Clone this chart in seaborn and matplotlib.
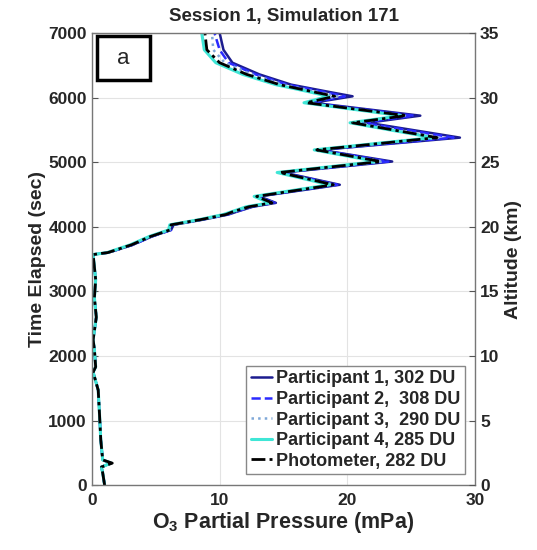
import matplotlib
matplotlib.use("Agg")
import matplotlib.pyplot as plt
import matplotlib.patches as mpatches
import numpy as np
import pandas as pd
import seaborn as sns

# sounding profile, values
time_s = [0, 190, 280, 340, 390, 700, 1100, 1470, 1750, 1830, 2100, 2250, 2600,
          2900, 3180, 3570, 3600, 3720, 3850, 3950, 4030, 4110, 4190, 4230, 4310,
          4370, 4470, 4650, 4840, 5010, 5190, 5380, 5610, 5720, 5920, 6020, 6090,
          6200, 6360, 6540, 6740, 7000]

photometer = [1.0, 0.85, 0.75, 1.6, 0.85, 0.7, 0.6, 0.5, 0.1, 0.3, 0.2, 0.1, 0.35,
              0.2, 0.3, 0.1, 1.25, 3.1, 4.6, 6.1, 6.2, 8.5, 10.5, 11.0, 12.3,
              14.1, 12.9, 18.9, 14.7, 22.6, 17.6, 27.0, 20.4, 24.6, 16.8, 19.0, 17.3,
              14.7, 12.1, 10.0, 9.0, 8.85]
part1 = [1.0, 0.85, 0.75, 1.5, 0.85, 0.7, 0.6, 0.5, 0.1, 0.3, 0.2, 0.1, 0.35,
         0.2, 0.3, 0.1, 1.3, 3.2, 4.7, 6.2, 6.4, 8.7, 10.7, 11.3, 12.6,
         14.4, 13.1, 19.4, 15.0, 23.5, 17.9, 28.8, 21.6, 25.7, 17.3, 20.4, 18.5,
         15.6, 13.1, 11.0, 10.3, 10.0]
part2 = [1.0, 0.85, 0.75, 1.5, 0.85, 0.7, 0.6, 0.5, 0.1, 0.3, 0.2, 0.1, 0.35,
         0.2, 0.3, 0.1, 1.3, 3.2, 4.7, 6.2, 6.3, 8.6, 10.6, 11.2, 12.5,
         14.3, 13.0, 19.2, 14.9, 23.2, 17.8, 28.3, 21.2, 25.2, 17.1, 19.8, 18.1,
         15.3, 12.8, 10.7, 10.0, 9.6]
part3 = [1.0, 0.85, 0.75, 1.5, 0.85, 0.7, 0.6, 0.5, 0.1, 0.3, 0.2, 0.1, 0.35,
         0.2, 0.3, 0.1, 1.25, 3.1, 4.6, 6.1, 6.2, 8.5, 10.5, 11.1, 12.4,
         14.2, 12.9, 19.0, 14.7, 22.8, 17.6, 27.3, 20.6, 24.5, 16.8, 19.2, 17.6,
         15.0, 12.5, 10.4, 9.5, 9.4]
part4 = [1.0, 0.85, 0.75, 1.5, 0.85, 0.7, 0.6, 0.5, 0.1, 0.3, 0.2, 0.1, 0.35,
         0.2, 0.3, 0.1, 1.2, 3.0, 4.5, 6.0, 6.1, 8.4, 10.3, 10.9, 12.1,
         13.9, 12.7, 18.6, 14.5, 22.3, 17.4, 26.7, 20.2, 24.2, 16.6, 18.5, 17.0,
         14.4, 11.8, 9.7, 8.8, 8.6]

labels = ["Participant 1, 302 DU", "Participant 2,  308 DU",
          "Participant 3,  290 DU", "Participant 4, 285 DU",
          "Photometer, 282 DU"]
series = [part1, part2, part3, part4, photometer]
colors = ["#1c1c8f", "#2a2aff", "#7fa8d8", "#3fe6d6", "black"]
styles = ["-", "--", ":", "-", (0, (5, 1.5, 1.2, 1.5))]
widths = [1.8, 1.8, 1.8, 2.2, 2.0]

alt_ticks = [0, 5, 10, 15, 20, 25, 30, 35]

sns.set_style("white")
plt.rcParams["font.family"] = ["Liberation Sans", "DejaVu Sans"]
plt.rcParams["font.weight"] = "bold"
plt.rcParams["mathtext.fontset"] = "custom"
plt.rcParams["mathtext.rm"] = "Liberation Sans:bold"
plt.rcParams["mathtext.default"] = "rm"

df = pd.concat([pd.DataFrame({"pressure": s, "time": time_s, "series": lab})
                for s, lab in zip(series, labels)])

fig = plt.figure(figsize=(5.37, 5.5), dpi=100)
ax = fig.add_axes([0.171, 0.118, 0.714, 0.822])

for lab, c, ls, lw in zip(labels, colors, styles, widths):
    sns.lineplot(data=df[df.series == lab], x="pressure", y="time", sort=False,
                 estimator=None, orient="y", color=c, linestyle=ls, linewidth=lw,
                 label=lab, ax=ax)

ax.set_xlim(0, 30)
ax.set_ylim(0, 7000)
ax.set_xticks([0, 10, 20, 30])
ax.set_yticks(range(0, 7001, 1000))
ax.grid(True, color="#e3e3e3", linewidth=0.8)
ax.tick_params(direction="in", labelsize=12.5, length=4, color="#555555")
ax.tick_params(axis="x", pad=6)
for sp in ax.spines.values():
    sp.set_color("#777777")
    sp.set_linewidth(1.0)
ax.set_xlabel("O$_3$ Partial Pressure (mPa)", fontsize=15.5, fontweight="bold", labelpad=1)
ax.set_ylabel("Time Elapsed (sec)", fontsize=14, fontweight="bold", labelpad=2)
ax.set_title("Session 1, Simulation 171", fontsize=13.5, fontweight="bold", pad=9)

ax2 = ax.twinx()
ax2.set_ylim(0, 35)
ax2.set_yticks(alt_ticks)
ax2.tick_params(direction="in", labelsize=12.5, length=4, color="#555555")
ax2.set_ylabel("Altitude (km)", fontsize=14, fontweight="bold", labelpad=4)
for sp in ax2.spines.values():
    sp.set_visible(False)

leg = ax.legend(loc="lower right", bbox_to_anchor=(0.982, 0.016), fontsize=13,
                handlelength=1.2, handletextpad=0.2, labelspacing=0.2,
                borderpad=0.25, borderaxespad=0.2, fancybox=False, framealpha=1,
                edgecolor="#888888")
for t in leg.get_texts():
    t.set_fontweight("bold")

ax.add_patch(mpatches.Rectangle((0.014, 0.895), 0.137, 0.098, transform=ax.transAxes,
                                facecolor="white", edgecolor="black", linewidth=2.5,
                                zorder=5))
ax.text(0.082, 0.944, "a", transform=ax.transAxes, fontsize=16, fontweight="normal",
        ha="center", va="center", zorder=6)

fig.savefig("out.png", dpi=100)
